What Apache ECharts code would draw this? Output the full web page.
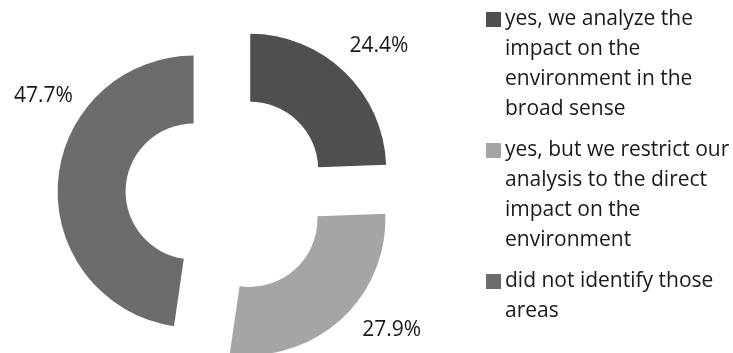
<!DOCTYPE html>
<html>
<head>
<meta charset="utf-8">
<script src="https://cdn.jsdelivr.net/npm/echarts@6/dist/echarts.min.js"></script>
<style>
  html, body { margin: 0; padding: 0; background: #ffffff; }
  #chart { width: 733px; height: 353px; }
</style>
</head>
<body>
<div id="chart"></div>
<script>
// Survey answers and their shares (%)
const categories = [
  'yes, we analyze the impact on the environment in the broad sense',
  'yes, but we restrict our analysis to the direct impact on the environment',
  'did not identify those areas'
];
const shares = [24.4, 27.9, 47.7];

// Legend wording broken into lines
const legendLines = [
  ['yes, we analyze the', 'impact on the', 'environment in the', 'broad sense'],
  ['yes, but we restrict our', 'analysis to the direct', 'impact on the', 'environment'],
  ['did not identify those', 'areas']
];

// Styling
const sliceColors = ['#4f4f4f', '#a5a5a5', '#6c6c6c'];
const labelShift = [[0, -26], [17, 10], [20, -86]];
const FONT = '"Open Sans", "Noto Sans", sans-serif';
const FONT_SIZE = 21;
const TEXT_COLOR = '#1a1a1a';

const chart = echarts.init(document.getElementById('chart'), null, { renderer: 'canvas' });

// Legend built as a column of swatches with wrapped captions
const LEG_X = 486, LEG_Y = 12, SW = 15, LINE_H = 30, ITEM_GAP = 11;
const legendGraphics = [];
let y = LEG_Y;
categories.forEach((name, i) => {
  const lines = legendLines[i];
  legendGraphics.push({
    type: 'rect',
    shape: { x: LEG_X, y: y, width: SW, height: SW },
    style: { fill: sliceColors[i] },
    silent: true
  });
  legendGraphics.push({
    type: 'text',
    x: LEG_X + 19,
    y: y + SW / 2 - LINE_H / 2,
    style: {
      text: lines.join('\n'),
      font: FONT_SIZE + 'px ' + FONT,
      lineHeight: LINE_H,
      fill: TEXT_COLOR,
      verticalAlign: 'top',
      align: 'left'
    },
    silent: true
  });
  y += lines.length * LINE_H + ITEM_GAP;
});

chart.setOption({
  animation: false,
  backgroundColor: '#ffffff',
  graphic: legendGraphics,
  series: [{
    type: 'pie',
    center: [227, 194],
    radius: [68, 136],
    startAngle: 90,
    clockwise: true,
    selectedMode: 'multiple',
    selectedOffset: 33.5,
    avoidLabelOverlap: false,
    emphasis: { disabled: true },
    select: { itemStyle: { borderWidth: 0 } },
    itemStyle: { borderWidth: 0 },
    label: {
      show: true,
      position: 'outside',
      formatter: p => p.value.toFixed(1) + '%',
      fontFamily: FONT,
      fontSize: FONT_SIZE,
      color: TEXT_COLOR,
      distanceToLabelLine: 5
    },
    labelLine: { show: false, length: 0, length2: 0 },
    labelLayout: p => ({ dx: labelShift[p.dataIndex][0], dy: labelShift[p.dataIndex][1] }),
    data: categories.map((name, i) => ({
      name: name,
      value: shares[i],
      selected: true,
      itemStyle: { color: sliceColors[i] },
      select: { itemStyle: { color: sliceColors[i] } }
    }))
  }]
});
</script>
</body>
</html>
